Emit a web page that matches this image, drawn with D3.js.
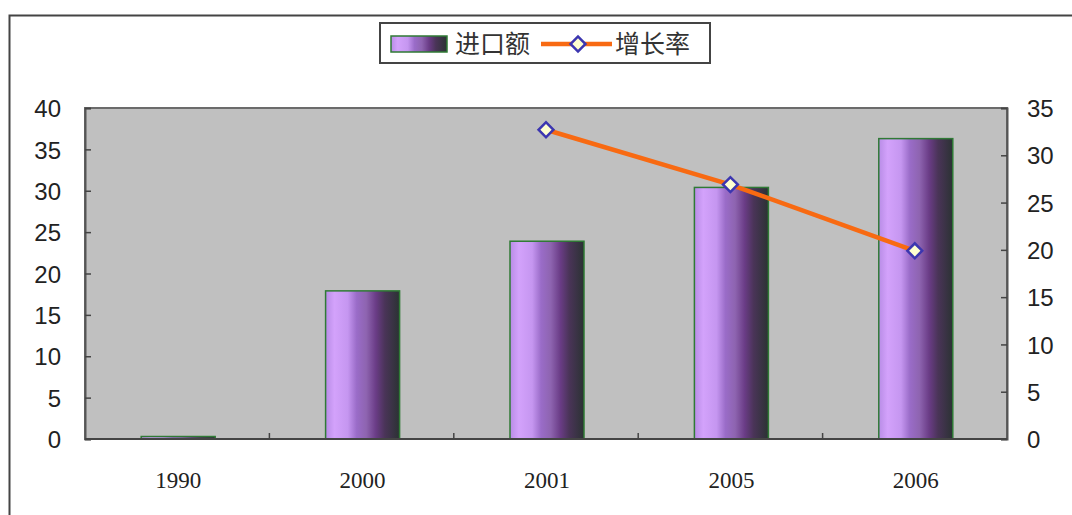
<!DOCTYPE html>
<html lang="zh">
<head>
<meta charset="utf-8">
<title>进口额与增长率</title>
<script src="https://d3js.org/d3.v7.min.js"></script>
<style>
  body { margin: 0; background: #fff; }
  svg { display: block; }
  .axis text { font-family: "Liberation Sans", Arial, sans-serif; font-size: 24px; fill: #222; }
  .xaxis text { font-family: "Liberation Serif", "Times New Roman", serif; font-size: 23px; fill: #222; }
  .legend text { font-family: "Noto Sans CJK SC", sans-serif; font-size: 25px; fill: #333; }
</style>
</head>
<body>
<svg id="chart" width="1072" height="515"></svg>
<script>
// data
const years = ['1990', '2000', '2001', '2005', '2006'];
const imports = [0.3, 17.9, 23.9, 30.4, 36.3];
const growthYears = ['2001', '2005', '2006'];
const growth = [32.7, 26.9, 19.9];
const leftTicks = [0, 5, 10, 15, 20, 25, 30, 35, 40];
const rightTicks = [0, 5, 10, 15, 20, 25, 30, 35];

const svg = d3.select('#chart');

// outer frame
svg.append('rect')
    .attr('x', 9.5).attr('y', 15.5)
    .attr('width', 1070).attr('height', 510)
    .attr('fill', '#fff')
    .attr('stroke', '#444').attr('stroke-width', 2);

const plot = {left: 85, top: 108, right: 1007, bottom: 439};

const x = d3.scaleBand()
    .domain(years)
    .range([plot.left, plot.right]);

const yL = d3.scaleLinear().domain([0, 40]).range([plot.bottom, plot.top]);
const yR = d3.scaleLinear().domain([0, 35]).range([plot.bottom, plot.top]);

// bar gradient
const defs = svg.append('defs');
const grad = defs.append('linearGradient')
    .attr('id', 'barGrad')
    .attr('x1', '0%').attr('x2', '100%').attr('y1', '0%').attr('y2', '0%');
[
  [0, '#b88ce6'], [0.12, '#d3a2fb'], [0.3, '#c596f0'], [0.42, '#9a6cc8'],
  [0.55, '#8e64b0'], [0.68, '#6a3c86'], [0.8, '#4a3458'], [1, '#2b3233']
].forEach(s => grad.append('stop').attr('offset', s[0]).attr('stop-color', s[1]));

// plot area
svg.append('rect')
    .attr('x', plot.left).attr('y', plot.top)
    .attr('width', plot.right - plot.left).attr('height', plot.bottom - plot.top)
    .attr('fill', '#c0c0c0')
    .attr('stroke', '#6b6b6b').attr('stroke-width', 2);

// bars
const barW = 74;
svg.append('g').selectAll('rect')
    .data(years)
    .join('rect')
    .attr('x', (d) => x(d) + x.bandwidth() / 2 - barW / 2 + 1)
    .attr('y', (d, i) => yL(imports[i]))
    .attr('width', barW)
    .attr('height', (d, i) => plot.bottom - yL(imports[i]))
    .attr('fill', 'url(#barGrad)')
    .attr('stroke', '#2f7a35')
    .attr('stroke-width', 1.5);

// left axis
svg.append('g')
    .attr('class', 'axis')
    .attr('transform', `translate(${plot.left},0)`)
    .call(d3.axisLeft(yL).tickValues(leftTicks).tickSize(-6).tickPadding(24))
    .call(g => g.select('.domain').attr('stroke', '#555').attr('stroke-width', 2))
    .call(g => g.selectAll('.tick line').attr('stroke', '#444').attr('stroke-width', 1.5))
    .call(g => g.selectAll('.tick text').attr('dy', '0.36em'));

// right axis
svg.append('g')
    .attr('class', 'axis')
    .attr('transform', `translate(${plot.right},0)`)
    .call(d3.axisRight(yR).tickValues(rightTicks).tickSize(-6).tickPadding(20))
    .call(g => g.select('.domain').attr('stroke', '#555').attr('stroke-width', 2))
    .call(g => g.selectAll('.tick line').attr('stroke', '#444').attr('stroke-width', 1.5))
    .call(g => g.selectAll('.tick text').attr('dy', '0.36em'));

// bottom axis: ticks at band boundaries, pointing up
const xAxis = svg.append('g')
    .attr('class', 'xaxis')
    .attr('transform', `translate(0,${plot.bottom})`);
xAxis.append('line')
    .attr('x1', plot.left).attr('x2', plot.right)
    .attr('stroke', '#444').attr('stroke-width', 2);
xAxis.selectAll('line.tk')
    .data(years.slice(1))
    .join('line')
    .attr('class', 'tk')
    .attr('x1', (d) => x(d)).attr('x2', (d) => x(d))
    .attr('y1', 0).attr('y2', -6)
    .attr('stroke', '#444').attr('stroke-width', 1.5);
xAxis.selectAll('text')
    .data(years)
    .join('text')
    .attr('x', (d) => x(d) + x.bandwidth() / 2 + 1)
    .attr('y', 49)
    .attr('text-anchor', 'middle')
    .text((d) => d);

// growth line
const line = d3.line()
    .x((d) => x(d) + x.bandwidth() / 2)
    .y((d, i) => yR(growth[i]));
svg.append('path')
    .datum(growthYears)
    .attr('d', line)
    .attr('fill', 'none')
    .attr('stroke', '#f86a12')
    .attr('stroke-width', 4.5);

const diamond = d3.symbol().type(d3.symbolSquare).size(110);
svg.append('g').selectAll('path')
    .data(growthYears)
    .join('path')
    .attr('d', diamond)
    .attr('transform', (d, i) => `translate(${x(d) + x.bandwidth() / 2},${yR(growth[i])}) rotate(45)`)
    .attr('fill', '#ffffd0')
    .attr('stroke', '#3c36b0')
    .attr('stroke-width', 2.5);

// legend
const lg = svg.append('g').attr('class', 'legend');
lg.append('rect')
    .attr('x', 380).attr('y', 23).attr('width', 330).attr('height', 40)
    .attr('fill', '#fff').attr('stroke', '#444').attr('stroke-width', 2);
lg.append('rect')
    .attr('x', 391).attr('y', 36).attr('width', 56).attr('height', 16)
    .attr('fill', 'url(#barGrad)').attr('stroke', '#2f7a35').attr('stroke-width', 1.5);
lg.append('text').attr('x', 455).attr('y', 53).text('进口额');
lg.append('line')
    .attr('x1', 541).attr('x2', 612).attr('y1', 44).attr('y2', 44)
    .attr('stroke', '#f86a12').attr('stroke-width', 4.5);
lg.append('path')
    .attr('d', diamond)
    .attr('transform', 'translate(578,44) rotate(45)')
    .attr('fill', '#ffffd0').attr('stroke', '#3c36b0').attr('stroke-width', 2.5);
lg.append('text').attr('x', 615).attr('y', 53).text('增长率');
</script>
</body>
</html>
